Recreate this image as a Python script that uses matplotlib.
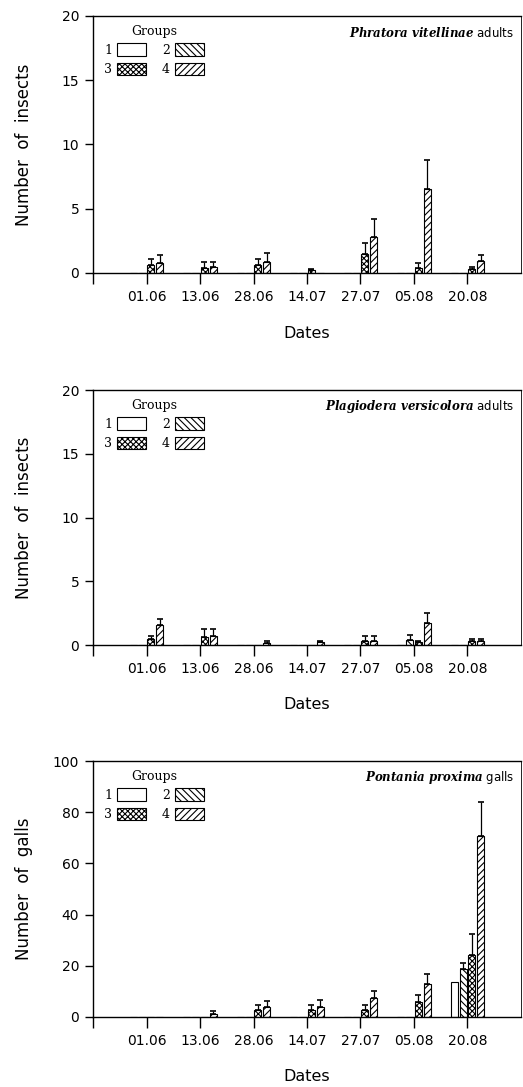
import numpy as np
import matplotlib
matplotlib.use("Agg")
import matplotlib.pyplot as plt
from matplotlib.patches import Patch

plt.rcParams["font.family"] = ["DejaVu Sans"]
plt.rcParams["hatch.linewidth"] = 0.8
plt.rcParams["mathtext.fontset"] = "custom"
plt.rcParams["mathtext.it"] = "DejaVu Serif:italic:bold"

dates = ["01.06", "13.06", "28.06", "14.07", "27.07", "05.08", "20.08"]
groups = ["1", "2", "3", "4"]
hatches = ["", "\\\\\\\\\\", "xxxxxx", "/////"]

# Phratora vitellinae adults: mean per group (rows = groups 1..4)
phr_mean = [
    [0, 0, 0, 0, 0, 0, 0],
    [0, 0, 0, 0, 0, 0, 0],
    [0.62, 0.42, 0.60, 0.20, 1.48, 0.42, 0.29],
    [0.75, 0.50, 0.88, 0, 2.78, 6.55, 0.96],
]
phr_top = [
    [0, 0, 0, 0, 0, 0, 0],
    [0, 0, 0, 0, 0, 0, 0],
    [1.06, 0.83, 1.06, 0.33, 2.31, 0.75, 0.50],
    [1.38, 0.83, 1.53, 0, 4.23, 8.78, 1.43],
]

# Plagiodera versicolora adults
pla_mean = [
    [0, 0, 0, 0, 0, 0, 0],
    [0, 0, 0, 0, 0, 0.40, 0],
    [0.50, 0.60, 0, 0, 0.30, 0.20, 0.30],
    [1.58, 0.71, 0.15, 0.20, 0.30, 1.70, 0.30],
]
pla_top = [
    [0, 0, 0, 0, 0, 0, 0],
    [0, 0, 0, 0, 0, 0.79, 0],
    [0.70, 1.24, 0, 0, 0.70, 0.35, 0.50],
    [2.03, 1.24, 0.30, 0.30, 0.70, 2.55, 0.50],
]

# Pontania proxima galls
pon_mean = [
    [0, 0, 0, 0, 0, 0, 13.7],
    [0, 0, 0, 0, 0, 0, 18.6],
    [0, 0, 2.9, 2.9, 2.9, 5.9, 24.2],
    [0, 1.0, 3.9, 3.9, 7.6, 12.7, 70.8],
]
pon_top = [
    [0, 0, 0, 0, 0, 0, 0],
    [0, 0, 0, 0, 0, 0, 20.9],
    [0, 0, 4.6, 4.6, 4.8, 8.4, 32.4],
    [0, 2.35, 6.3, 6.5, 10.0, 16.7, 83.9],
]

panels = [
    (phr_mean, phr_top, "Phratora\\ vitellinae", "adults", "insects", 20, 5,
     [0.178, 0.7489, 0.818, 0.2364]),
    (pla_mean, pla_top, "Plagiodera\\ versicolora", "adults", "insects", 20, 5,
     [0.178, 0.4066, 0.818, 0.2346]),
    (pon_mean, pon_top, "Pontania\\ proxima", "galls", "galls", 100, 20,
     [0.178, 0.0644, 0.818, 0.2355]),
]

fig = plt.figure(figsize=(5.23, 10.87), dpi=100)

x = np.arange(1, len(dates) + 1)
step = 0.163
width = 0.13

for mean, top, species, kind, what, ymax, ystep, pos in panels:
    ax = fig.add_axes(pos)
    for g in range(4):
        xs = x + (g - 1.5) * step
        m = np.array(mean[g], dtype=float)
        t = np.array(top[g], dtype=float)
        ax.bar(xs, m, width, color="white", edgecolor="black", linewidth=0.8,
               hatch=hatches[g], zorder=2)
        has = t > 0
        ax.errorbar(xs[has], m[has], yerr=[np.zeros(has.sum()), t[has] - m[has]],
                    fmt="none", ecolor="black", elinewidth=0.9, capsize=2.2,
                    capthick=1.2, zorder=3)

    ax.set_xlim(0, 8)
    ax.set_ylim(0, ymax)
    ax.set_xticks(np.arange(0, 8))
    ax.set_xticklabels([""] + dates)
    ax.set_yticks(np.arange(0, ymax + 1, ystep))
    ax.tick_params(axis="x", direction="out", length=8, width=1, pad=4, labelsize=10)
    ax.tick_params(axis="y", direction="out", length=6, width=1, pad=4, labelsize=10)
    for s in ax.spines.values():
        s.set_linewidth(1)
    ax.spines["right"].set_linewidth(0.6)

    ax.set_xlabel("Dates", fontsize=11.5)
    ax.xaxis.set_label_coords(0.5, -0.205)
    ax.set_ylabel("Number  of  " + what, fontsize=12)
    ax.yaxis.set_label_coords(-0.14, 0.5)

    ax.text(0.985, 0.935, r"$\mathit{" + species + "}$ " + kind,
            transform=ax.transAxes, ha="right", va="center", fontsize=8.5)

    handles = [Patch(facecolor="white", edgecolor="black", hatch=h, linewidth=0.8)
               for h in hatches]
    order = [0, 2, 1, 3]
    ax.legend([handles[i] for i in order], [groups[i] for i in order],
              ncol=2, loc="upper left", bbox_to_anchor=(0.005, 1.0),
              frameon=False, title="Groups", markerfirst=False,
              handlelength=2.3, handleheight=1.2, handletextpad=0.4,
              columnspacing=1.3, labelspacing=0.45, borderaxespad=0.3,
              prop={"family": "DejaVu Serif", "size": 9},
              title_fontproperties={"family": "DejaVu Serif", "size": 9})

fig.savefig("out.png", dpi=100)
